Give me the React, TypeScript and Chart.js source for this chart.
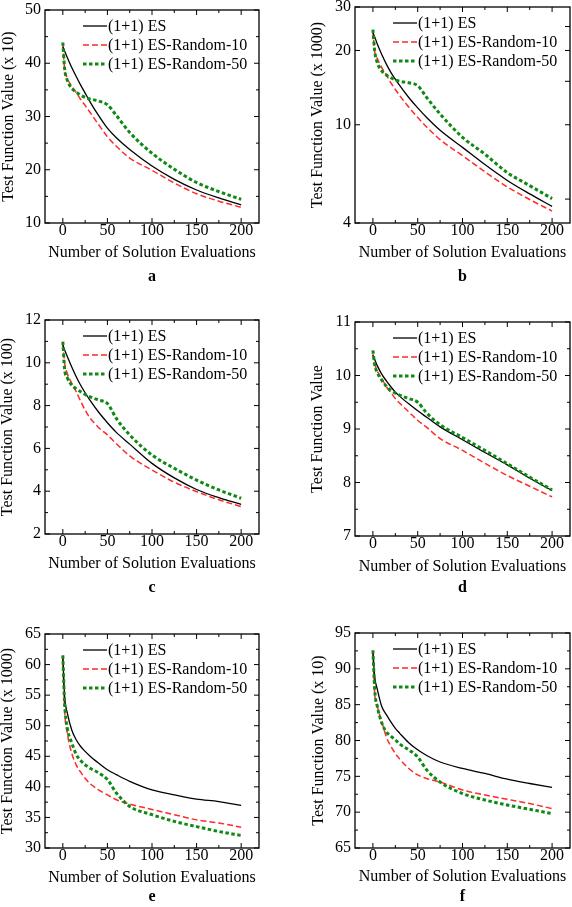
import React, { useEffect, useRef } from "react";
import { Chart, registerables } from "chart.js";

Chart.register(...registerables);

// ---------- data ----------
const evaluations = [0, 2, 5, 10, 15, 20, 25, 30, 40, 50, 60, 75, 100, 125, 150, 175, 200];
const seriesLabels = ["(1+1) ES", "(1+1) ES-Random-10", "(1+1) ES-Random-50"];
const xTickValues = [0, 50, 100, 150, 200];
const xMinorValues = [25, 75, 125, 175];
const xAxisTitle = "Number of Solution Evaluations";

const aES = [43.1, 42.3, 41.1, 39.2, 37.5, 35.9, 34.4, 32.9, 30.2, 27.8, 26.0, 23.8, 20.7, 18.2, 16.2, 14.7, 13.4];
const aR10 = [43.5, 39.0, 37.2, 35.7, 34.5, 33.2, 32.1, 30.9, 28.5, 26.2, 24.4, 22.2, 19.9, 17.5, 15.5, 14.1, 12.95];
const aR50 = [43.9, 39.0, 36.8, 35.3, 34.6, 34.0, 33.6, 33.3, 32.9, 32.2, 30.2, 27.0, 23.1, 20.1, 17.6, 15.9, 14.45];
const aYTicks = [10, 20, 30, 40, 50];
const aYMinor = [15, 25, 35, 45];

const bES = [23.6, 22.7, 21.2, 19.2, 17.6, 16.3, 15.3, 14.4, 12.9, 11.7, 10.7, 9.5, 8.1, 6.9, 5.95, 5.25, 4.67];
const bR10 = [24.0, 19.8, 18.5, 17.0, 15.9, 14.8, 13.9, 13.1, 11.8, 10.7, 9.8, 8.7, 7.5, 6.45, 5.6, 4.98, 4.47];
const bR50 = [24.3, 19.9, 17.8, 16.5, 15.9, 15.5, 15.2, 15.0, 14.8, 14.4, 12.9, 11.05, 8.9, 7.6, 6.4, 5.67, 5.02];
const bYTicks = [4, 10, 20, 30];
const bYRightTicks = [5, 10, 15, 20, 25];

const cES = [10.83, 10.6, 10.3, 9.8, 9.35, 8.95, 8.6, 8.28, 7.7, 7.2, 6.75, 6.2, 5.3, 4.62, 4.08, 3.7, 3.39];
const cR10 = [10.9, 10.0, 9.5, 9.04, 8.65, 8.2, 7.79, 7.45, 6.98, 6.63, 6.22, 5.65, 4.99, 4.42, 3.98, 3.6, 3.28];
const cR50 = [10.99, 9.7, 9.3, 8.96, 8.78, 8.65, 8.52, 8.42, 8.26, 8.1, 7.4, 6.63, 5.69, 5.07, 4.52, 4.06, 3.67];
const cYTicks = [2, 4, 6, 8, 10, 12];
const cYMinor = [3, 5, 7, 9, 11];

const dES = [10.38, 10.3, 10.18, 10.02, 9.9, 9.79, 9.69, 9.61, 9.47, 9.34, 9.22, 9.04, 8.8, 8.56, 8.33, 8.08, 7.85];
const dR10 = [10.4, 10.22, 10.08, 9.94, 9.79, 9.68, 9.57, 9.48, 9.32, 9.16, 9.03, 8.82, 8.6, 8.36, 8.13, 7.93, 7.73];
const dR50 = [10.47, 10.2, 10.05, 9.91, 9.8, 9.72, 9.67, 9.63, 9.57, 9.5, 9.3, 9.08, 8.84, 8.6, 8.35, 8.1, 7.86];
const dYTicks = [7, 8, 9, 10, 11];
const dYMinor = [7.5, 8.5, 9.5, 10.5];

const eES = [61.3, 54.8, 52.1, 49.3, 47.7, 46.6, 45.8, 45.1, 43.9, 42.8, 42.0, 40.9, 39.5, 38.7, 38.0, 37.6, 36.97];
const eR10 = [61.5, 52.6, 48.8, 45.5, 43.6, 42.4, 41.4, 40.6, 39.5, 38.7, 37.9, 37.2, 36.3, 35.45, 34.6, 34.1, 33.4];
const eR50 = [61.5, 53.7, 49.6, 47.2, 45.3, 44.3, 43.6, 43.1, 42.3, 41.2, 39.0, 36.8, 35.45, 34.35, 33.5, 32.7, 32.05];
const eYTicks = [30, 35, 40, 45, 50, 55, 60, 65];
const eYMinor = [32.5, 37.5, 42.5, 47.5, 52.5, 57.5, 62.5];

const fES = [92.4, 88.9, 87.1, 84.7, 83.6, 82.6, 81.7, 81.0, 79.7, 78.7, 77.9, 77.0, 76.1, 75.4, 74.6, 74.0, 73.45];
const fR10 = [92.5, 86.6, 84.7, 82.6, 80.5, 79.2, 78.2, 77.4, 76.1, 75.2, 74.7, 74.2, 73.1, 72.4, 71.8, 71.2, 70.5];
const fR50 = [92.6, 87.1, 84.7, 82.4, 81.2, 80.6, 80.1, 79.5, 78.7, 77.7, 75.9, 74.2, 72.6, 71.7, 71.0, 70.4, 69.8];
const fYTicks = [65, 70, 75, 80, 85, 90, 95];
const fYMinor = [67.5, 72.5, 77.5, 82.5, 87.5, 92.5];

// ---------- panel layout ----------
type PanelCfg = {
  letter: string;
  yTitle: string;
  series: number[][];
  log: boolean;
  yTicks: number[];
  yMinor: number[];
  yRight?: number[];
  canvas: { x: number; y: number; w: number; h: number };
  area: { l: number; t: number; r: number; b: number };
  yTitlePad: number;
  xTitlePad: number;
  letterY: number;
};

const panels: PanelCfg[] = [
  { letter: "a", yTitle: "Test Function Value (x 10)", series: [aES, aR10, aR50], log: false, yTicks: aYTicks, yMinor: aYMinor,
    canvas: { x: 0, y: 0, w: 286, h: 295 }, area: { l: 45, t: 10, r: 259, b: 223 }, yTitlePad: 1, xTitlePad: 34, letterY: 277 },
  { letter: "b", yTitle: "Test Function Value (x 1000)", series: [bES, bR10, bR50], log: true, yTicks: bYTicks, yMinor: [], yRight: bYRightTicks,
    canvas: { x: 286, y: 0, w: 286, h: 295 }, area: { l: 355, t: 7, r: 570, b: 223 }, yTitlePad: 24, xTitlePad: 34.5, letterY: 277 },
  { letter: "c", yTitle: "Test Function Value (x 100)", series: [cES, cR10, cR50], log: false, yTicks: cYTicks, yMinor: cYMinor,
    canvas: { x: 0, y: 295, w: 286, h: 305 }, area: { l: 45, t: 320, r: 259, b: 534 }, yTitlePad: 0, xTitlePad: 28, letterY: 588 },
  { letter: "d", yTitle: "Test Function Value", series: [dES, dR10, dR50], log: false, yTicks: dYTicks, yMinor: dYMinor,
    canvas: { x: 286, y: 295, w: 286, h: 305 }, area: { l: 355, t: 322, r: 570, b: 536 }, yTitlePad: 24, xTitlePad: 25, letterY: 588 },
  { letter: "e", yTitle: "Test Function Value (x 1000)", series: [eES, eR10, eR50], log: false, yTicks: eYTicks, yMinor: eYMinor,
    canvas: { x: 0, y: 600, w: 286, h: 307 }, area: { l: 45, t: 634, r: 259, b: 848 }, yTitlePad: 0, xTitlePad: 21, letterY: 897 },
  { letter: "f", yTitle: "Test Function Value (x 10)", series: [fES, fR10, fR50], log: false, yTicks: fYTicks, yMinor: fYMinor,
    canvas: { x: 286, y: 600, w: 286, h: 307 }, area: { l: 355, t: 633, r: 570, b: 848 }, yTitlePad: 25, xTitlePad: 22, letterY: 897 },
];

const FAMILY = '"Liberation Serif", "Times New Roman", Times, serif';
const lineStyles = [
  { borderColor: "#000000", borderWidth: 1.3, borderDash: [] as number[], order: 1 },
  { borderColor: "#ff2a2a", borderWidth: 1.5, borderDash: [6, 3], order: 2 },
  { borderColor: "#0e8a14", borderWidth: 3, borderDash: [3.5, 2.5], order: 0 },
];

function Panel({ cfg }: { cfg: PanelCfg }) {
  const ref = useRef<HTMLCanvasElement>(null);
  useEffect(() => {
    const c = cfg;
    const canvas = ref.current!;
    const datasets = c.series.map((s, i) => ({
      label: seriesLabels[i],
      data: evaluations.map((x, j) => ({ x, y: s[j] })),
      borderColor: lineStyles[i].borderColor,
      borderWidth: lineStyles[i].borderWidth,
      borderDash: lineStyles[i].borderDash,
      order: lineStyles[i].order,
      pointRadius: 0,
      fill: false,
      cubicInterpolationMode: "monotone" as const,
      borderCapStyle: "butt" as const,
    }));

    const framePlugin = {
      id: "frameTicksLegend",
      afterDraw(chart: any) {
        const ctx = chart.ctx as CanvasRenderingContext2D;
        const { left, right, top, bottom } = chart.chartArea;
        const xs = chart.scales.x;
        const ys = chart.scales.y;
        ctx.save();
        ctx.strokeStyle = "#000";
        ctx.lineWidth = 1;
        const vt = (v: number, len: number) => {
          const px = xs.getPixelForValue(v);
          ctx.beginPath();
          ctx.moveTo(px, bottom);
          ctx.lineTo(px, bottom - len);
          ctx.moveTo(px, top);
          ctx.lineTo(px, top + len);
          ctx.stroke();
        };
        xTickValues.forEach((v) => vt(v, 5));
        xMinorValues.forEach((v) => vt(v, 3));
        const ht = (v: number, len: number, side: "l" | "r" | "both") => {
          const py = ys.getPixelForValue(v);
          ctx.beginPath();
          if (side !== "r") {
            ctx.moveTo(left, py);
            ctx.lineTo(left + len, py);
          }
          if (side !== "l") {
            ctx.moveTo(right, py);
            ctx.lineTo(right - len, py);
          }
          ctx.stroke();
        };
        if (c.yRight) {
          c.yTicks.forEach((v) => ht(v, 5, "l"));
          c.yRight.forEach((v) => ht(v, 5, "r"));
        } else {
          c.yTicks.forEach((v) => ht(v, 5, "both"));
        }
        c.yMinor.forEach((v) => ht(v, 3, "both"));
        // frame
        ctx.lineWidth = 1.3;
        ctx.strokeRect(left, top, right - left, bottom - top);
        // legend
        ctx.font = `16px ${FAMILY}`;
        ctx.textBaseline = "middle";
        ctx.textAlign = "left";
        chart.data.datasets.forEach((ds: any, i: number) => {
          const y = top + 16 + 19 * i;
          ctx.beginPath();
          ctx.strokeStyle = ds.borderColor;
          ctx.lineWidth = ds.borderWidth;
          ctx.setLineDash(ds.borderDash || []);
          ctx.moveTo(left + 38, y);
          ctx.lineTo(left + 62, y);
          ctx.stroke();
          ctx.setLineDash([]);
          ctx.fillStyle = "#000";
          ctx.fillText(ds.label, left + 63, y + 0.5);
        });
        // panel letter
        ctx.font = `bold 16px ${FAMILY}`;
        ctx.textAlign = "center";
        ctx.fillText(c.letter, (left + right) / 2, c.letterY - c.canvas.y);
        ctx.restore();
      },
    };

    const font = { family: FAMILY, size: 16, lineHeight: 1 };
    const chart = new Chart(canvas, {
      type: "line",
      data: { datasets },
      options: {
        responsive: false,
        maintainAspectRatio: false,
        animation: false,
        events: [],
        layout: {
          padding: {
            left: 0,
            top: c.area.t - c.canvas.y,
            right: c.canvas.x + c.canvas.w - c.area.r,
            bottom: 0,
          },
        },
        plugins: { legend: { display: false }, tooltip: { enabled: false } },
        scales: {
          x: {
            type: "linear",
            min: -20,
            max: 220,
            grid: { display: false, drawTicks: false },
            border: { display: false },
            afterBuildTicks: (s: any) => {
              s.ticks = xTickValues.map((v) => ({ value: v }));
            },
            afterFit: (s: any) => {
              s.height = c.canvas.y + c.canvas.h - c.area.b;
              s.paddingLeft = 0;
              s.paddingRight = 0;
            },
            ticks: { padding: 0, color: "#000", font, autoSkip: false, maxRotation: 0, callback: (v: any) => String(v) },
            title: { display: true, text: xAxisTitle, color: "#000", font, padding: { top: 0, bottom: c.xTitlePad } },
          },
          y: {
            type: c.log ? "logarithmic" : "linear",
            min: c.yTicks[0],
            max: c.yTicks[c.yTicks.length - 1],
            grid: { display: false, drawTicks: false },
            border: { display: false },
            afterBuildTicks: (s: any) => {
              s.ticks = c.yTicks.map((v) => ({ value: v }));
            },
            afterFit: (s: any) => {
              s.width = c.area.l - c.canvas.x;
              s.paddingTop = 0;
              s.paddingBottom = 0;
            },
            ticks: { padding: 4, color: "#000", font, autoSkip: false, callback: (v: any) => String(v) },
            title: { display: true, text: c.yTitle, color: "#000", font, padding: { top: c.yTitlePad, bottom: 0 } },
          },
        } as any,
      },
      plugins: [framePlugin],
    } as any);
    return () => chart.destroy();
  }, [cfg]);
  return (
    <canvas
      ref={ref}
      width={cfg.canvas.w}
      height={cfg.canvas.h}
      style={{ position: "absolute", left: cfg.canvas.x, top: cfg.canvas.y, width: cfg.canvas.w, height: cfg.canvas.h }}
    />
  );
}

export default function App() {
  return (
    <div style={{ position: "absolute", left: 0, top: 0, width: 572, height: 907, background: "#fff", overflow: "hidden" }}>
      {panels.map((p) => (
        <Panel key={p.letter} cfg={p} />
      ))}
    </div>
  );
}
